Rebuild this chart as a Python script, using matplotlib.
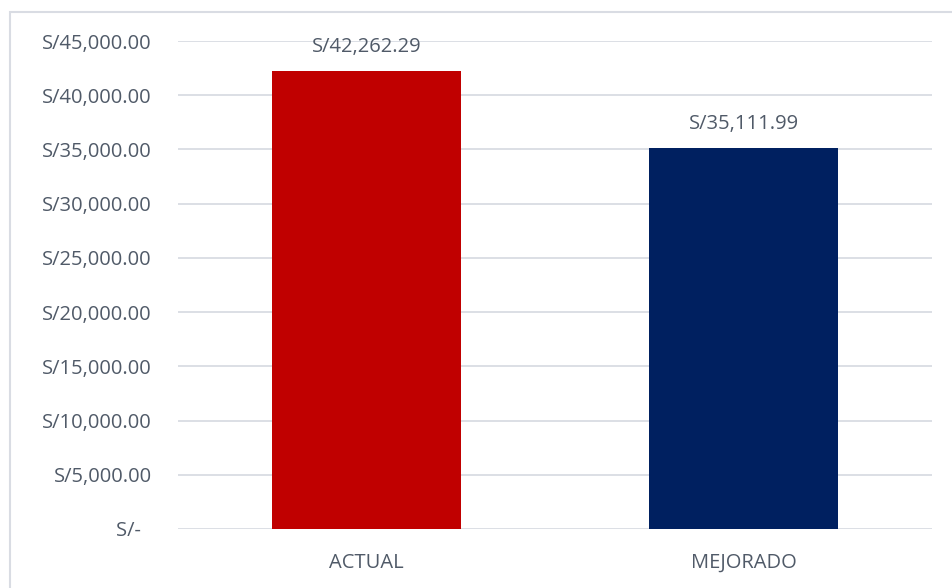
import matplotlib
matplotlib.use("Agg")
import matplotlib.pyplot as plt
import matplotlib.patches as mpatches
from matplotlib.ticker import FuncFormatter

categories = ["ACTUAL", "MEJORADO"]
values = [42262.29, 35111.99]
colors = ["#C00000", "#002060"]
yticks = list(range(0, 45001, 5000))

TEXT = "#505A68"
GRID = "#D9DCE3"

plt.rcParams["font.family"] = ["Open Sans", "DejaVu Sans"]

fig = plt.figure(figsize=(9.52, 5.88), dpi=100)
fig.patches.append(mpatches.Rectangle((10 / 952, -0.1), 1.2, (588 - 12) / 588 + 0.1,
                                      transform=fig.transFigure, fill=False,
                                      edgecolor="#D9DCE3", linewidth=1.5))
ax = fig.add_axes([178 / 952, 59 / 588, 754 / 952, 488 / 588])

x = range(len(categories))
bars = ax.bar(x, values, width=0.5, color=colors, zorder=3)
for bar, v in zip(bars, values):
    ax.text(bar.get_x() + bar.get_width() / 2, v + 1300, f"S/{v:,.2f}",
            ha="center", va="bottom", fontsize=14.5, color=TEXT)

ax.set_xlim(-0.5, 1.5)
ax.set_ylim(0, 45000)
ax.set_yticks(yticks)


def fmt(v, pos):
    return "S/-  " if v == 0 else f"S/{v:,.2f}"


ax.yaxis.set_major_formatter(FuncFormatter(fmt))
ax.set_xticks(list(x))
ax.set_xticklabels(categories)
ax.tick_params(axis="both", length=0, colors=TEXT, labelsize=14.5)
ax.tick_params(axis="y", pad=19)
ax.tick_params(axis="x", pad=17)
ax.grid(axis="y", color=GRID, linewidth=1.3, zorder=0)
for s in ax.spines.values():
    s.set_visible(False)

plt.savefig("out.png", dpi=100)
